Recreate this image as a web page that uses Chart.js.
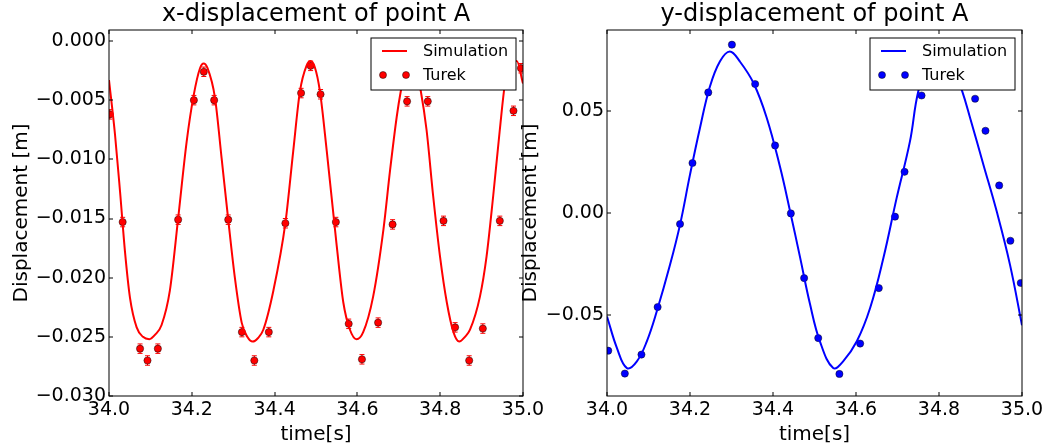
<!DOCTYPE html>
<html>
<head>
<meta charset="utf-8">
<script src="https://cdn.jsdelivr.net/npm/chart.js@4.4.1/dist/chart.umd.min.js"></script>
<style>
  html, body { margin: 0; padding: 0; background: #fff; overflow: hidden; width: 1045px; height: 447px; }
  .panel { position: absolute; top: 0; height: 447px; }
  #leftPanel { left: 0; width: 550px; }
  #rightPanel { left: 515px; width: 545px; }
</style>
</head>
<body>
<div class="panel" id="leftPanel"><canvas id="xChart" width="550" height="447"></canvas></div>
<div class="panel" id="rightPanel"><canvas id="yChart" width="545" height="447"></canvas></div>

<script>
const FONT = '"DejaVu Sans", Verdana, sans-serif';

// shared time axis
const timeTicks = [34.0, 34.2, 34.4, 34.6, 34.8, 35.0];

// x-displacement of point A
const xDispTicks = [-0.030, -0.025, -0.020, -0.015, -0.010, -0.005, 0.000];
const xDispTickLabels = ['−0.030', '−0.025', '−0.020', '−0.015', '−0.010', '−0.005', '0.000'];

const simXTime = [34.000, 34.0145, 34.0266, 34.0386, 34.0507, 34.0668, 34.082, 34.0974, 34.112, 34.127,
  34.147, 34.1667, 34.1876, 34.2045, 34.2198, 34.2287, 34.238, 34.256, 34.272, 34.288,
  34.304, 34.3205, 34.334, 34.347, 34.360, 34.3727, 34.397, 34.426, 34.445, 34.461,
  34.477, 34.487, 34.497, 34.5097, 34.526, 34.550, 34.566, 34.582, 34.598, 34.614,
  34.638, 34.663, 34.679, 34.695, 34.705, 34.717, 34.729, 34.741, 34.753, 34.767,
  34.783, 34.7995, 34.816, 34.832, 34.846, 34.860, 34.872, 34.896, 34.912, 34.928,
  34.944, 34.9565, 34.970, 34.985, 35.000];
const simXDisp = [-0.0033, -0.0079, -0.0127, -0.0178, -0.0217, -0.0242, -0.0250, -0.0252, -0.0248, -0.0240,
  -0.0211, -0.0151, -0.0085, -0.0046, -0.0023, -0.0019, -0.0023, -0.0048, -0.0099, -0.0151,
  -0.0200, -0.0238, -0.0250, -0.0254, -0.0251, -0.0244, -0.0211, -0.0154, -0.0093, -0.0043,
  -0.0021, -0.0017, -0.0022, -0.0043, -0.0093, -0.0173, -0.0221, -0.0244, -0.0252, -0.0246,
  -0.0216, -0.0159, -0.0109, -0.0064, -0.0042, -0.0023, -0.0018, -0.0023, -0.0042, -0.0075,
  -0.0131, -0.0182, -0.0221, -0.0246, -0.0254, -0.0250, -0.0244, -0.0216, -0.0182, -0.0131,
  -0.0075, -0.0036, -0.0020, -0.0017, -0.0036];

const turekXTime = [34.002, 34.033, 34.075, 34.093, 34.118, 34.167, 34.205, 34.229, 34.254, 34.288,
  34.321, 34.351, 34.386, 34.426, 34.464, 34.487, 34.511, 34.548, 34.579, 34.611,
  34.650, 34.685, 34.720, 34.745, 34.770, 34.808, 34.836, 34.870, 34.903, 34.944,
  34.977, 34.995];
const turekXDisp = [-0.0062, -0.0153, -0.0260, -0.0270, -0.0260, -0.0151, -0.0050, -0.0026, -0.0050, -0.0151,
  -0.0246, -0.0270, -0.0246, -0.0154, -0.0044, -0.0021, -0.0045, -0.0153, -0.0239, -0.0269,
  -0.0238, -0.0155, -0.0051, -0.0022, -0.0051, -0.0152, -0.0242, -0.0270, -0.0243, -0.0152,
  -0.0059, -0.0023];
const turekXErr = [0.0004, 0.0004, 0.0004, 0.0004, 0.0004, 0.0004, 0.0004, 0.0004, 0.0004, 0.0004,
  0.0004, 0.0004, 0.0004, 0.0004, 0.0004, 0.0004, 0.0004, 0.0004, 0.0004, 0.0004,
  0.0004, 0.0004, 0.0004, 0.0004, 0.0004, 0.0004, 0.0004, 0.0004, 0.0004, 0.0004,
  0.0004, 0.0004];

// y-displacement of point A
const yDispTicks = [-0.05, 0.00, 0.05];
const yDispTickLabels = ['−0.05', '0.00', '0.05'];

const simYTime = [34.000, 34.024, 34.048, 34.072, 34.096, 34.120, 34.152, 34.176, 34.200, 34.224,
  34.248, 34.272, 34.296, 34.320, 34.353, 34.385, 34.417, 34.441, 34.465, 34.489,
  34.513, 34.545, 34.569, 34.602, 34.634, 34.666, 34.698, 34.730, 34.750, 34.775,
  34.803, 34.830, 34.856, 34.875, 34.907, 34.939, 34.971, 35.000];
const simYDisp = [-0.0507, -0.0662, -0.0760, -0.0727, -0.0629, -0.0482, -0.0253, -0.0057, 0.0188, 0.0417,
  0.0620, 0.0743, 0.0792, 0.0743, 0.0637, 0.0466, 0.0225, 0.0010, -0.0215, -0.0445,
  -0.0629, -0.0760, -0.0727, -0.0629, -0.0466, -0.0221, 0.0074, 0.0351, 0.0596, 0.0735,
  0.0790, 0.0735, 0.0596, 0.0466, 0.0237, 0.0008, -0.0253, -0.0550];

const turekYTime = [34.003, 34.043, 34.083, 34.122, 34.176, 34.206, 34.244, 34.301, 34.357, 34.405,
  34.443, 34.475, 34.509, 34.560, 34.610, 34.655, 34.694, 34.717, 34.758, 34.805,
  34.850, 34.887, 34.912, 34.945, 34.972, 34.997];
const turekYDisp = [-0.0675, -0.0787, -0.0694, -0.0461, -0.0054, 0.0245, 0.0591, 0.0825, 0.0632, 0.0331,
  -0.0002, -0.0319, -0.0613, -0.0789, -0.0640, -0.0368, -0.0018, 0.0202, 0.0576, 0.0830,
  0.0740, 0.0560, 0.0403, 0.0135, -0.0136, -0.0343];

const toPoints = (xs, ys) => xs.map((x, i) => ({ x: x, y: ys[i] }));

// error bars drawn under the markers
const errorBars = {
  id: 'errorBars',
  beforeDatasetsDraw(chart) {
    const { ctx, chartArea, scales } = chart;
    ctx.save();
    ctx.beginPath();
    ctx.rect(chartArea.left, chartArea.top, chartArea.width, chartArea.height);
    ctx.clip();
    chart.data.datasets.forEach(ds => {
      if (!ds.errors) return;
      ctx.strokeStyle = ds.errorColor;
      ctx.lineWidth = 1;
      ds.data.forEach((p, i) => {
        const px = scales.x.getPixelForValue(p.x);
        const top = scales.y.getPixelForValue(p.y + ds.errors[i]);
        const bot = scales.y.getPixelForValue(p.y - ds.errors[i]);
        ctx.beginPath();
        ctx.moveTo(px, top); ctx.lineTo(px, bot);
        ctx.moveTo(px - 2.5, top); ctx.lineTo(px + 2.5, top);
        ctx.moveTo(px - 2.5, bot); ctx.lineTo(px + 2.5, bot);
        ctx.stroke();
      });
    });
    ctx.restore();
  }
};

// matplotlib-like frame with inward ticks on every side
const frameTicks = {
  id: 'frameTicks',
  afterDatasetsDraw(chart) {
    const { ctx, chartArea: a, scales } = chart;
    const len = 4;
    ctx.save();
    ctx.strokeStyle = '#000';
    ctx.lineWidth = 1;
    ctx.strokeRect(a.left, a.top, a.width, a.height);
    ctx.beginPath();
    scales.x.ticks.forEach(t => {
      const px = Math.round(scales.x.getPixelForValue(t.value));
      ctx.moveTo(px, a.bottom); ctx.lineTo(px, a.bottom - len);
      ctx.moveTo(px, a.top); ctx.lineTo(px, a.top + len);
    });
    scales.y.ticks.forEach(t => {
      const py = Math.round(scales.y.getPixelForValue(t.value));
      ctx.moveTo(a.left, py); ctx.lineTo(a.left + len, py);
      ctx.moveTo(a.right, py); ctx.lineTo(a.right - len, py);
    });
    ctx.stroke();
    ctx.restore();
  }
};

// boxed legend in the upper right corner, drawn on top of the data
const boxLegend = {
  id: 'boxLegend',
  afterDraw(chart, args, opts) {
    const { ctx, chartArea: a } = chart;
    const w = 145, h = 52;
    const left = Math.round(a.right - opts.offsetRight - w);
    const top = Math.round(a.top + 8);
    ctx.save();
    ctx.fillStyle = '#fff';
    ctx.fillRect(left, top, w, h);
    ctx.strokeStyle = '#000';
    ctx.lineWidth = 1;
    ctx.strokeRect(left, top, w, h);
    ctx.font = '16px ' + FONT;
    ctx.textBaseline = 'middle';
    ctx.textAlign = 'left';
    chart.data.datasets.forEach((ds, i) => {
      const cy = top + 13 + i * 24;
      if (ds.showLine) {
        ctx.strokeStyle = ds.borderColor;
        ctx.lineWidth = 2;
        ctx.beginPath();
        ctx.moveTo(left + 11, cy); ctx.lineTo(left + 36, cy);
        ctx.stroke();
      } else {
        [left + 12, left + 35].forEach(mx => {
          ctx.beginPath();
          ctx.arc(mx, cy, 3.5, 0, Math.PI * 2);
          ctx.fillStyle = ds.pointBackgroundColor;
          ctx.fill();
          ctx.lineWidth = 0.6;
          ctx.strokeStyle = 'rgba(0,0,0,0.8)';
          ctx.stroke();
        });
      }
      ctx.fillStyle = '#000';
      ctx.fillText(ds.label, left + 52, cy + 1);
    });
    ctx.restore();
  }
};

function makePanel(canvasId, cfg) {
  const tickFont = { family: FONT, size: 19 };
  const labelFont = { family: FONT, size: 20 };
  return new Chart(document.getElementById(canvasId), {
    type: 'scatter',
    data: {
      datasets: [
        {
          label: 'Simulation',
          data: toPoints(cfg.simTime, cfg.simDisp),
          showLine: true,
          borderColor: cfg.color,
          borderWidth: 2,
          pointRadius: 0,
          cubicInterpolationMode: cfg.interp,
          tension: 0.4,
          clip: 0
        },
        {
          label: 'Turek',
          data: toPoints(cfg.turekTime, cfg.turekDisp),
          showLine: false,
          pointRadius: 3.6,
          pointBackgroundColor: cfg.color,
          pointBorderColor: 'rgba(0,0,0,0.8)',
          pointBorderWidth: 0.6,
          errors: cfg.turekErr,
          errorColor: cfg.color,
          clip: 0
        }
      ]
    },
    options: {
      responsive: false,
      animation: false,
      devicePixelRatio: 1,
      layout: { padding: { left: 0, right: cfg.padRight, top: 0, bottom: 0 } },
      plugins: {
        legend: { display: false },
        tooltip: { enabled: false },
        title: {
          display: true,
          text: cfg.title,
          fullSize: false,
          color: '#000',
          font: { family: FONT, size: 24, weight: 'normal' },
          padding: { top: 0, bottom: 1.2 }
        },
        boxLegend: { offsetRight: 7 }
      },
      scales: {
        x: {
          type: 'linear',
          min: 34,
          max: 35,
          afterBuildTicks: s => { s.ticks = timeTicks.map(v => ({ value: v })); },
          afterFit: s => { s.height = 51; },
          grid: { display: false, drawTicks: false },
          border: { display: false },
          ticks: {
            color: '#000',
            font: tickFont,
            padding: 3,
            maxRotation: 0,
            autoSkip: false,
            callback: v => v.toFixed(1)
          },
          title: { display: true, text: 'time[s]', color: '#000', font: labelFont, padding: { top: 2, bottom: 0 } }
        },
        y: {
          type: 'linear',
          min: cfg.yMin,
          max: cfg.yMax,
          afterBuildTicks: s => { s.ticks = cfg.yTicks.map(v => ({ value: v })); },
          afterFit: s => { s.width = cfg.yAxisWidth; },
          grid: { display: false, drawTicks: false },
          border: { display: false },
          ticks: {
            color: '#000',
            font: tickFont,
            padding: 3,
            autoSkip: false,
            callback: (v, i) => cfg.yTickLabels[i]
          },
          title: { display: true, text: 'Displacement [m]', color: '#000', font: labelFont, padding: { top: cfg.yTitlePad, bottom: 0 } }
        }
      }
    },
    plugins: [errorBars, frameTicks, boxLegend]
  });
}

makePanel('xChart', {
  title: 'x-displacement of point A',
  color: '#ff0000',
  interp: 'monotone',
  simTime: simXTime, simDisp: simXDisp,
  turekTime: turekXTime, turekDisp: turekXDisp, turekErr: turekXErr,
  yMin: -0.030, yMax: 0.00093,
  yTicks: xDispTicks, yTickLabels: xDispTickLabels,
  yAxisWidth: 109, yTitlePad: 10, padRight: 27
});

makePanel('yChart', {
  title: 'y-displacement of point A',
  color: '#0000ff',
  interp: 'default',
  simTime: simYTime, simDisp: simYDisp,
  turekTime: turekYTime, turekDisp: turekYDisp, turekErr: null,
  yMin: -0.0897, yMax: 0.0897,
  yTicks: yDispTicks, yTickLabels: yDispTickLabels,
  yAxisWidth: 92, yTitlePad: 4, padRight: 38
});
</script>
</body>
</html>
